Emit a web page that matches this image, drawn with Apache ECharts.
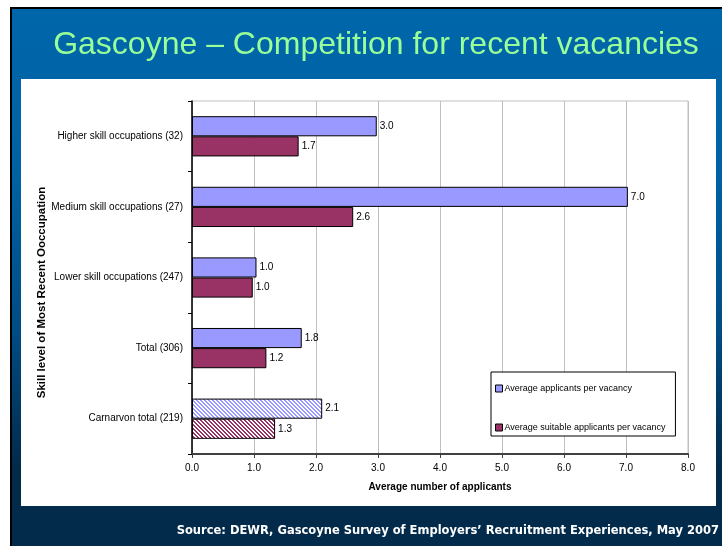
<!DOCTYPE html>
<html>
<head>
<meta charset="utf-8">
<script src="https://cdn.jsdelivr.net/npm/echarts@6/dist/echarts.min.js"></script>
<style>
  html, body { margin: 0; padding: 0; background: #fff; }
  #slide { position: absolute; left: 0; top: 0; width: 722px; height: 546px; background: #fff; }
  #frame { position: absolute; left: 10px; top: 7px; width: 712px; height: 539px; background: #000; }
  #bg { position: absolute; left: 12px; top: 9px; width: 710px; height: 537px;
        background: linear-gradient(to bottom, #0066aa 0%, #0062a4 30%, #004c84 60%, #022b4b 85%, #022b4b 100%); }
  #panel { position: absolute; left: 21px; top: 79px; width: 695px; height: 427px; background: #fff; }
  #chart { position: absolute; left: 0; top: 0; width: 722px; height: 546px; }
</style>
</head>
<body>
<div id="slide">
  <div id="frame"></div>
  <div id="bg"></div>
  <div id="panel"></div>
  <div id="chart"></div>
</div>
<script>
const categories = [
  'Higher skill occupations (32)',
  'Medium skill occupations (27)',
  'Lower skill occupations (247)',
  'Total (306)',
  'Carnarvon total (219)'
];
const applicants = [2.98, 7.03, 1.04, 1.77, 2.1];
const suitable = [1.72, 2.6, 0.98, 1.2, 1.34];
const xTicks = [0, 1, 2, 3, 4, 5, 6, 7, 8];

const BLUE = '#9999ff';
const RED = '#993366';
const FONT = 'Liberation Sans, Arial, sans-serif';

// diagonal hatch used for the Carnarvon bars
function hatch(color) {
  const c = document.createElement('canvas');
  c.width = c.height = 4;
  const g = c.getContext('2d');
  g.fillStyle = '#fff';
  g.fillRect(0, 0, 4, 4);
  g.fillStyle = color;
  for (let i = 0; i < 4; i++) {
    g.fillRect(i, i, 1, 1);
    g.fillRect((i + 1) % 4, i, 1, 1);
  }
  return c;
}

function toItems(values, color) {
  return values.map((v, i) => {
    if (i === values.length - 1) {
      return { value: v, itemStyle: { color: { image: hatch(color), repeat: 'repeat' } } };
    }
    return v;
  });
}

const chart = echarts.init(document.getElementById('chart'));

const labelStyle = {
  show: true,
  position: 'right',
  distance: 3,
  color: '#000',
  fontSize: 10,
  fontFamily: FONT,
  formatter: p => p.value.toFixed(1)
};

chart.setOption({
  backgroundColor: 'transparent',
  animation: false,
  title: [
    {
      text: 'Gascoyne \u2013 Competition for recent vacancies',
      left: 371,
      top: 24,
      textAlign: 'center',
      textStyle: {
        color: '#99ff99',
        fontSize: 32,
        fontWeight: 'normal',
        fontFamily: FONT,
        textShadowColor: 'rgba(0,0,0,0.8)',
        textShadowOffsetX: 2,
        textShadowOffsetY: 2,
        textShadowBlur: 0
      }
    },
    {
      text: 'Source: DEWR, Gascoyne Survey of Employers\u2019 Recruitment Experiences, May 2007',
      right: -2,
      top: 520,
      textStyle: {
        color: '#fff',
        fontSize: 11.5,
        fontWeight: 'bold',
        fontFamily: 'DejaVu Sans, Verdana, sans-serif'
      }
    }
  ],
  legend: {
    orient: 'vertical',
    left: 491,
    top: 372,
    padding: [12, 10, 4, 4],
    itemGap: 30,
    itemWidth: 7,
    itemHeight: 7,
    backgroundColor: '#fff',
    borderColor: '#000',
    borderWidth: 1,
    icon: 'rect',
    itemStyle: { borderColor: '#000', borderWidth: 1 },
    textStyle: { color: '#000', fontSize: 9, fontFamily: FONT, padding: [0, 0, 0, -3] },
    data: ['Average applicants per vacancy', 'Average suitable applicants per vacancy']
  },
  grid: {
    left: 192,
    right: 34,
    top: 101,
    bottom: 92,
    show: true,
    borderColor: '#c0c0c0',
    borderWidth: 1
  },
  xAxis: {
    type: 'value',
    min: xTicks[0],
    max: xTicks[xTicks.length - 1],
    interval: 1,
    name: 'Average number of applicants',
    nameLocation: 'middle',
    nameGap: 28,
    nameTextStyle: { color: '#000', fontSize: 10, fontWeight: 'bold', fontFamily: FONT },
    axisLine: { show: true, lineStyle: { color: '#404040', width: 2 } },
    axisTick: { show: true, length: 4, lineStyle: { color: '#404040' } },
    axisLabel: { color: '#000', fontSize: 10, margin: 9, fontFamily: FONT, formatter: v => v.toFixed(1) },
    splitLine: { show: true, lineStyle: { color: '#c0c0c0', width: 1 } }
  },
  yAxis: {
    type: 'category',
    data: categories,
    inverse: true,
    name: 'Skill level of Most Recent Ooccupation',
    nameLocation: 'middle',
    nameGap: 144,
    nameMoveOverlap: false,
    nameRotate: 90,
    nameTextStyle: { color: '#000', fontSize: 11.5, fontWeight: 'bold', fontFamily: FONT, padding: [0, 30, 0, 0] },
    axisLine: { show: true, lineStyle: { color: '#000', width: 1.5 } },
    axisTick: { show: true, length: 4, lineStyle: { color: '#000' } },
    axisLabel: { color: '#000', fontSize: 10, margin: 9, fontFamily: FONT },
    splitLine: { show: false }
  },
  series: [
    {
      name: 'Average applicants per vacancy',
      type: 'bar',
      data: toItems(applicants, BLUE),
      barGap: '0%',
      barCategoryGap: '43%',
      itemStyle: { color: BLUE, borderColor: '#000', borderWidth: 1 },
      label: labelStyle
    },
    {
      name: 'Average suitable applicants per vacancy',
      type: 'bar',
      data: toItems(suitable, RED),
      barGap: '0%',
      barCategoryGap: '43%',
      itemStyle: { color: RED, borderColor: '#000', borderWidth: 1 },
      label: labelStyle
    }
  ]
});

window.addEventListener('resize', () => chart.resize());
</script>
</body>
</html>
